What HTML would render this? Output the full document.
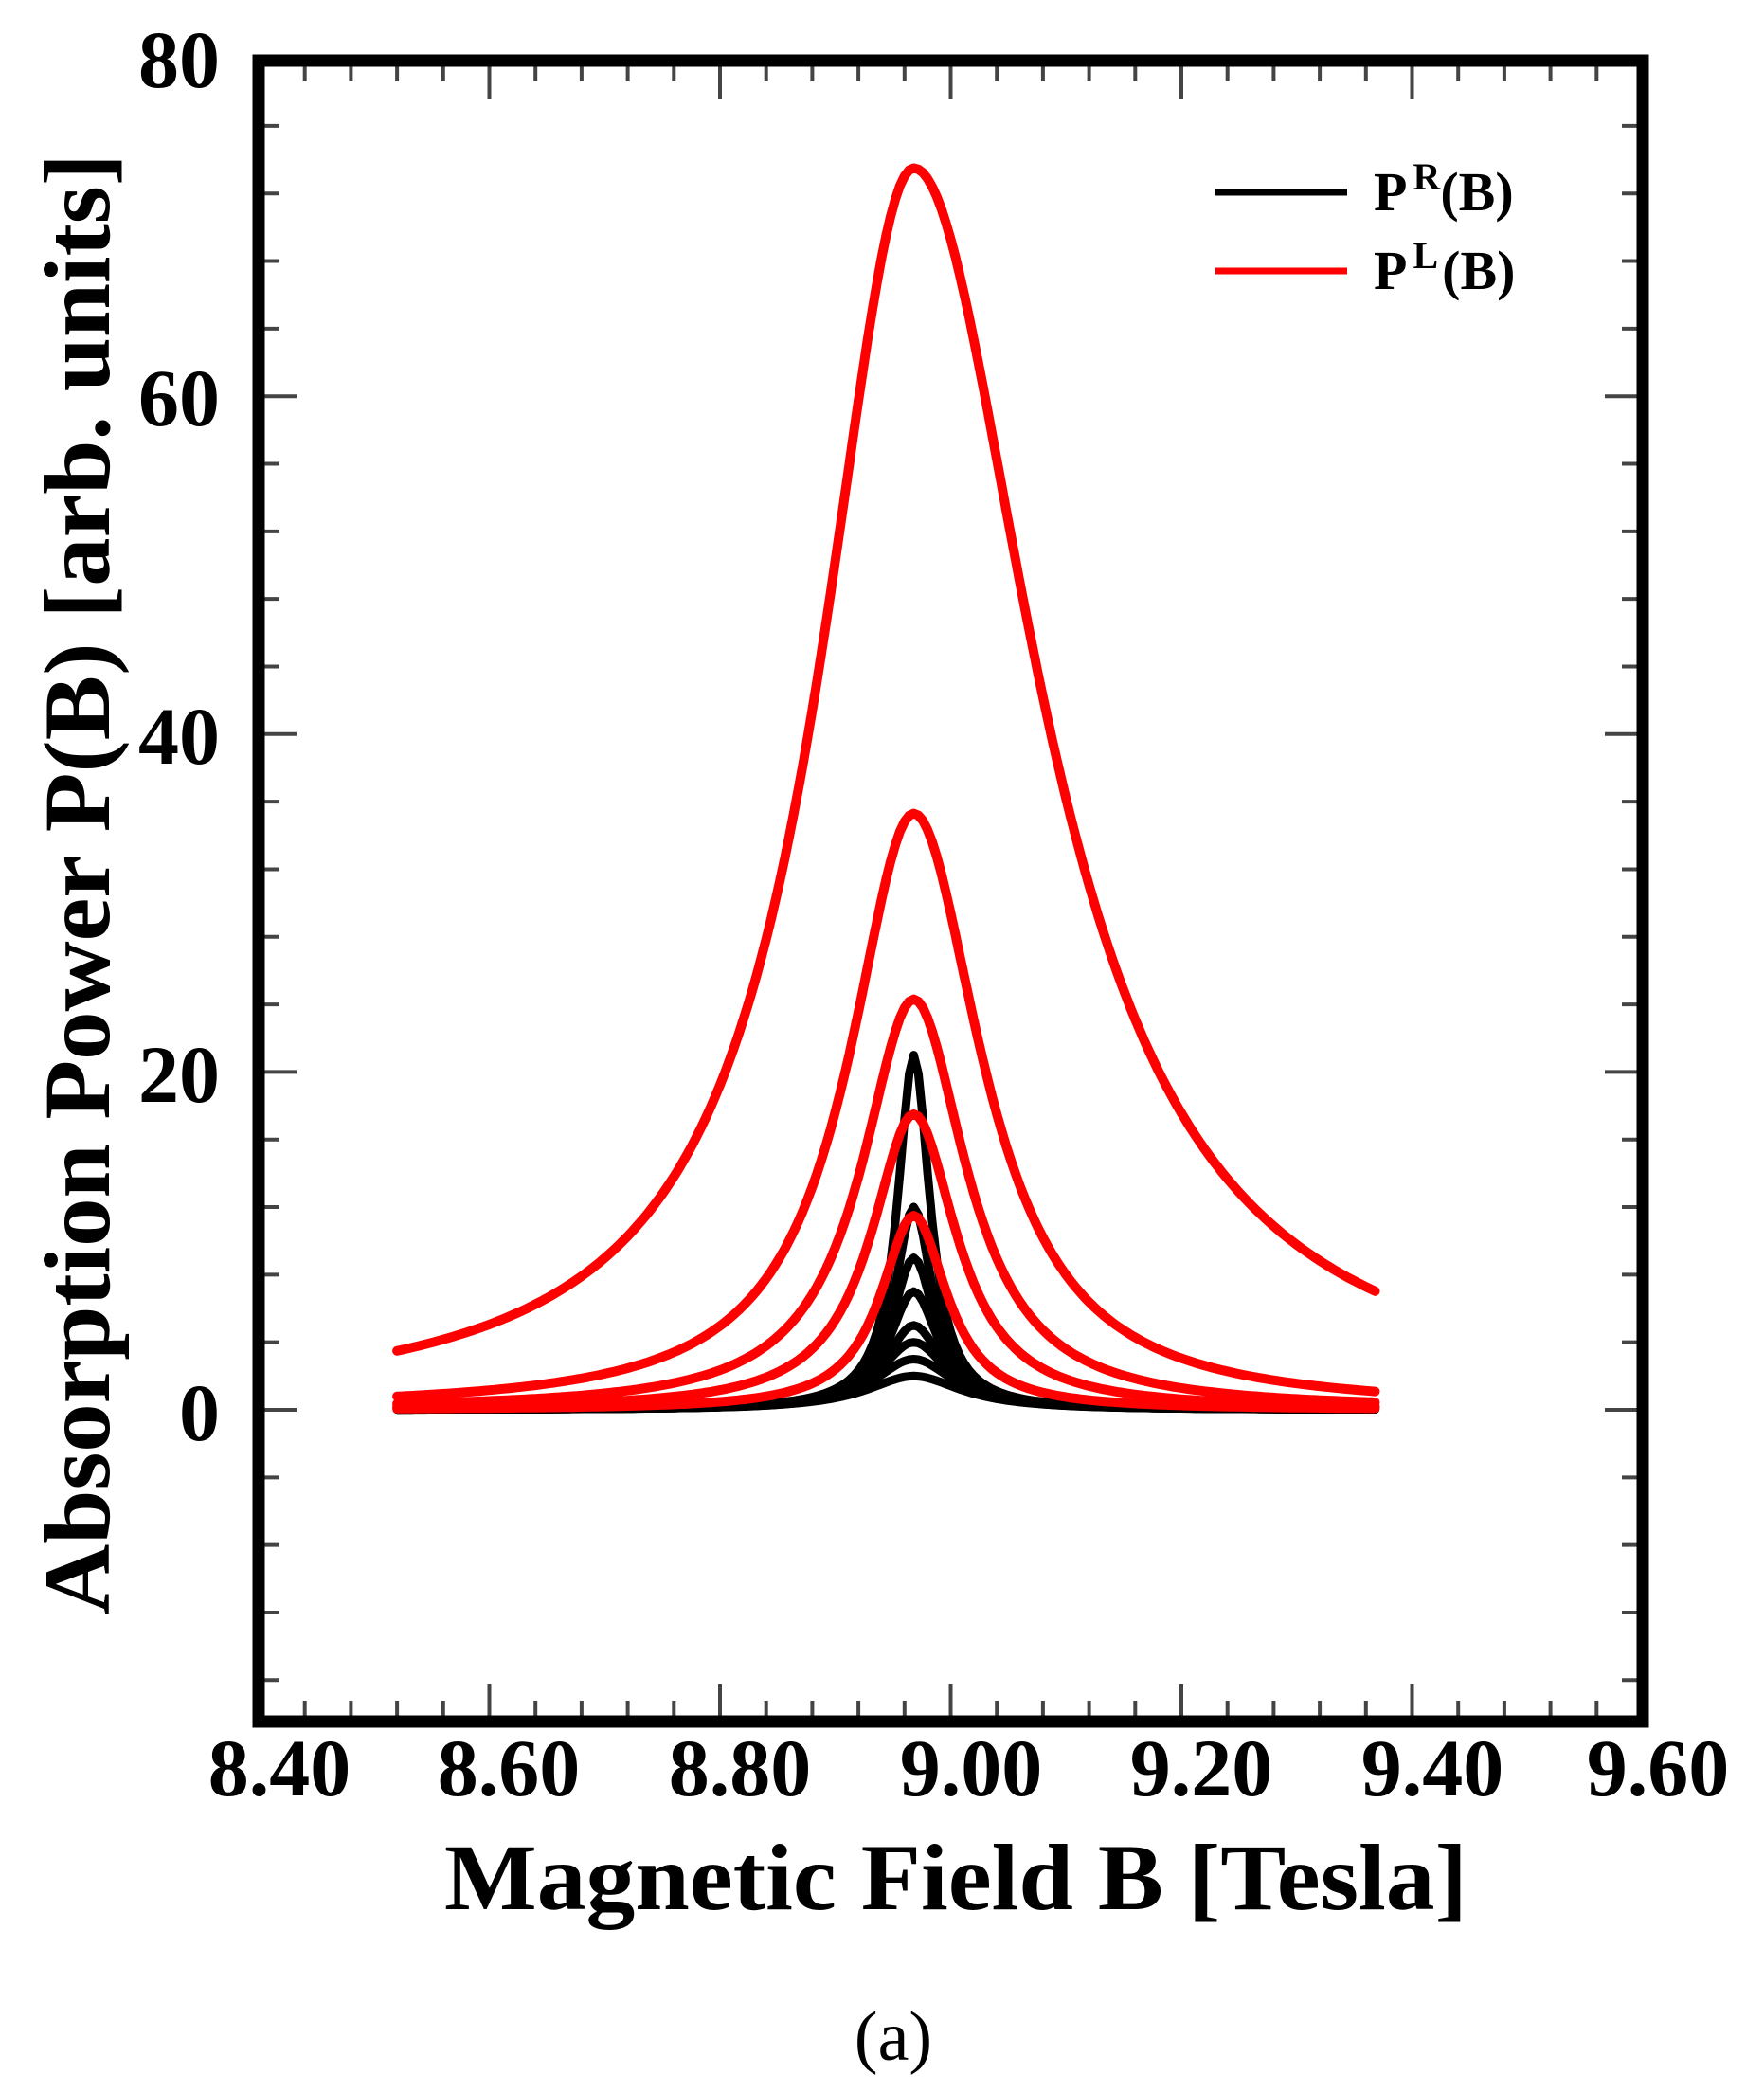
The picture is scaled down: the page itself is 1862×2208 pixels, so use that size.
<!DOCTYPE html>
<html><head><meta charset="utf-8"><style>
html,body{margin:0;padding:0;background:#fff;}
svg{display:block;}
text{font-family:"Liberation Serif",serif;font-weight:bold;fill:#000;}
</style></head><body>
<svg id="s" width="1862" height="2208" viewBox="0 0 1862 2208" xmlns="http://www.w3.org/2000/svg">
<g id="ticks" stroke="#444" stroke-width="4"></g>
<g id="curves" fill="none" stroke-linejoin="round" stroke-linecap="round"></g>
<rect x="273" y="64" width="1461" height="1753" fill="none" stroke="#000" stroke-width="13"/>
<g font-size="86" text-anchor="end">
<text x="232" y="92">80</text>
<text x="232" y="449">60</text>
<text x="232" y="806">40</text>
<text x="232" y="1163">20</text>
<text x="232" y="1520">0</text>
</g>
<g font-size="86" text-anchor="middle">
<text x="295" y="1895">8.40</text>
<text x="537" y="1895">8.60</text>
<text x="781" y="1895">8.80</text>
<text x="1025" y="1895">9.00</text>
<text x="1268" y="1895">9.20</text>
<text x="1512" y="1895">9.40</text>
<text x="1750" y="1895">9.60</text>
</g>
<text x="469" y="2015" font-size="100" textLength="1080" lengthAdjust="spacingAndGlyphs">Magnetic Field B [Tesla]</text>
<text transform="translate(115,1704) rotate(-90)" font-size="100" textLength="1542" lengthAdjust="spacingAndGlyphs">Absorption Power P(B) [arb. units]</text>
<line x1="1283" y1="203" x2="1422" y2="203" stroke="#000" stroke-width="7"/>
<line x1="1283" y1="286" x2="1422" y2="286" stroke="#f00" stroke-width="7"/>
<text x="1450" y="222" font-size="58">P<tspan font-size="40" dx="6" dy="-22">R</tspan><tspan dy="22">(B)</tspan></text>
<text x="1450" y="305" font-size="58">P<tspan font-size="40" dx="6" dy="-22">L</tspan><tspan dx="4" dy="22">(B)</tspan></text>
<text x="943" y="2174" font-size="74" text-anchor="middle" style="font-weight:normal">(a)</text>
</svg>
<script>
var X=function(b){return 273+(b-8.4)/0.2*243.5;};
var Y=function(v){return 1488-v*17.83;};
var t=document.getElementById('ticks'),h='';
for(var i=0;i<=30;i++){var b=8.4+i*0.04,x=X(b),L=(i%5==0)?40:22;
 h+='<line x1="'+x+'" y1="1817" x2="'+x+'" y2="'+(1817-L)+'"/>';
 h+='<line x1="'+x+'" y1="64" x2="'+x+'" y2="'+(64+L)+'"/>';}
for(var v=-16;v<=80;v+=4){var y=Y(v),L=(v%20==0)?40:22;
 h+='<line x1="273" y1="'+y+'" x2="'+(273+L)+'" y2="'+y+'"/>';
 h+='<line x1="1734" y1="'+y+'" x2="'+(1734-L)+'" y2="'+y+'"/>';}
t.innerHTML=h;
var c=document.getElementById('curves'),s='';
function cur(A,g,col,w,asym){var p=[];for(var b=8.52;b<=9.37001;b+=0.004){var d=b-8.968;var gg=g*(d>0?asym:1);var v=A/(1+(d/gg)*(d/gg));p.push(X(b).toFixed(1)+','+Y(v).toFixed(1));}
 s+='<polyline points="'+p.join(' ')+'" stroke="'+col+'" stroke-width="'+w+'"/>';}
[[21,0.017],[12,0.02],[9,0.023],[7,0.026],[5,0.03],[4,0.036],[3,0.042],[2,0.05]].forEach(function(a){cur(a[0],a[1],'#000',9,1);});
[[73.5,0.1,1.3],[35.3,0.068,1.05],[24.3,0.055,1],[17.5,0.045,1],[11.5,0.035,1]].forEach(function(a){cur(a[0],a[1],'#f00',10,a[2]);});
c.innerHTML=s;
</script>
</body></html>
